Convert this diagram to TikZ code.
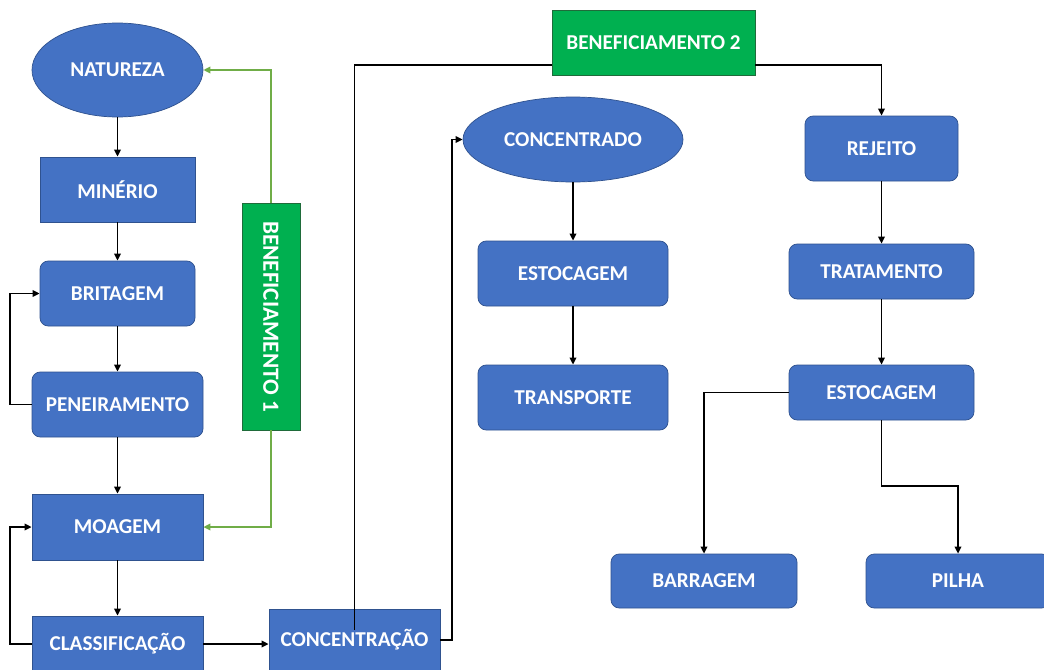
\documentclass[tikz,border=0pt]{standalone}
\usepackage{fontspec}
\setmainfont{Carlito}
\usetikzlibrary{arrows.meta,shapes.geometric,calc}
\definecolor{boxblue}{HTML}{4472C4}
\definecolor{boxedge}{HTML}{2F528F}
\definecolor{bgreen}{HTML}{00B050}
\definecolor{gedge}{HTML}{1F6B3A}
\definecolor{lgreen}{HTML}{70AD47}
\begin{document}
\begin{tikzpicture}[x=0.85pt,y=-0.85pt,
  sz/.style 2 args={minimum width=#1*0.85pt,minimum height=#2*0.85pt},
  base/.style={fill=boxblue,draw=boxedge,line width=0.6pt,text=white,
    font=\bfseries\fontsize{18}{21}\selectfont,inner sep=0pt,align=center},
  sq/.style={base,rectangle},
  rd/.style={base,rectangle,rounded corners=7pt},
  ov/.style={base,ellipse},
  gr/.style={fill=bgreen,draw=gedge,line width=0.6pt,text=white,
    font=\bfseries\fontsize{18}{21}\selectfont,inner sep=0pt},
  conn/.style={line width=1.6pt,-{Triangle[length=6pt,width=5.5pt]}},
  plainline/.style={line width=1.6pt},
  gconn/.style={line width=1.6pt,draw=lgreen,-{Triangle[length=6pt,width=5.5pt]}}
]
\fill[white] (0,0) rectangle (1044,669);
\useasboundingbox (0,0) rectangle (1044,669);

% left column
\node[ov,sz={171}{94}] (nat) at (117.5,70) {NATUREZA};
\node[sq,sz={155}{65}] (min) at (117.5,189.5) {MINÉRIO};
\node[rd,sz={155}{65}] (bri) at (117.5,293.5) {BRITAGEM};
\node[rd,sz={171}{65}] (pen) at (117.5,404.5) {PENEIRAMENTO};
\node[sq,sz={171}{66}] (moa) at (117.5,527) {MOAGEM};
\node[sq,sz={171}{56}] (cla) at (117.5,644) {CLASSIFICAÇÃO};
\node[gr,rotate=-90,sz={227}{58},font=\bfseries\fontsize{19.7}{23}\selectfont] (b1) at (271,316.5) {BENEFICIAMENTO 1};

% middle
\node[sq,sz={171}{62}] (con) at (354.5,640) {CONCENTRAÇÃO};
\node[gr,sz={203}{65}] (b2) at (653.5,42.5) {BENEFICIAMENTO 2};
\node[ov,sz={220}{85}] (cdo) at (573,139.5) {CONCENTRADO};
\node[rd,sz={190}{65}] (est1) at (573,273.5) {ESTOCAGEM};
\node[rd,sz={190}{65}] (tra) at (573,397.5) {TRANSPORTE};

% right
\node[rd,sz={153}{65}] (rej) at (881.5,148.5) {REJEITO};
\node[rd,sz={185}{55}] (trat) at (881.5,271.5) {TRATAMENTO};
\node[rd,sz={185}{55}] (est2) at (881.5,392.5) {ESTOCAGEM};
\node[rd,sz={186}{54}] (bar) at (704,581) {BARRAGEM};
\node[rd,sz={184}{54}] (pil) at (958,581) {PILHA};

% left connectors
\draw[conn] (nat) -- (min);
\draw[conn] (min) -- (bri);
\draw[conn] (bri) -- (pen);
\draw[conn] (pen) -- (moa);
\draw[conn] (moa) -- (cla);
\draw[conn] (pen.west) -- ++(-22,0) |- (bri.west);
\draw[conn] (cla.west) -- ++(-22,0) |- (moa.west);
\draw[conn] (cla.east) -- (cla.east -| con.west);
\draw[gconn] (b1.west) |- (nat.east);
\draw[gconn] (b1.east) |- (moa.east);

% middle connectors
\draw[conn] (con.east) -- ++(12,0) |- (cdo.west);
\draw[plainline] ($(con.north)+(0,21)$) |- ($(b2.south west)+(0,-10)$);
\draw[conn] ($(b2.south east)+(0,-10)$) -| (rej.north);
\draw[conn] (cdo) -- (est1);
\draw[conn] (est1) -- (tra);

% right connectors
\draw[conn] (rej) -- (trat);
\draw[conn] (trat) -- (est2);
\draw[conn] (est2.west) -| (bar.north);
\draw[conn] (est2.south) -- ++(0,66) -| (pil.north);
\end{tikzpicture}
\end{document}
